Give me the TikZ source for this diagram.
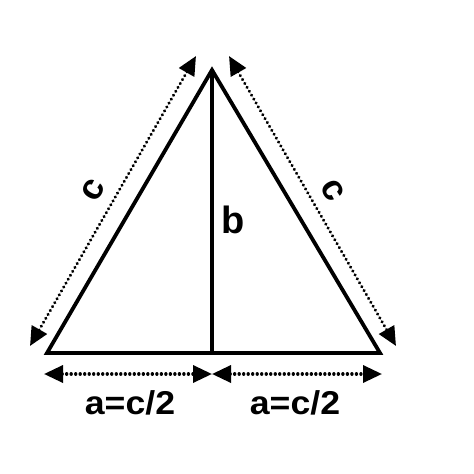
\documentclass[tikz,border=0pt]{standalone}
\usepackage{fontspec}
\setmainfont{Liberation Sans}
\usetikzlibrary{arrows.meta}
\begin{document}
\begin{tikzpicture}[x=1pt,y=-1pt,
  edge/.style={line width=3.8pt},
  dim/.style={line width=3.4pt,line cap=round,dash pattern=on 0.01pt off 4.5pt,
    {Triangle[length=19pt,width=17pt,line cap=butt]}-{Triangle[length=19pt,width=17pt,line cap=butt]}},
  lbl/.style={font=\bfseries\fontsize{33}{33}\selectfont,inner sep=0pt},
]
\useasboundingbox (0,0) rectangle (474,474);
\fill[white] (0,0) rectangle (474,474);
\coordinate (A) at (212,70);
\coordinate (L) at (47,353);
\coordinate (R) at (380,353);
\coordinate (F) at (212,353);
\draw[edge] (L) -- (A) -- (R) -- cycle;
\draw[edge] (A) -- (F);
\coordinate (l1) at (196,56);
\coordinate (l2) at (30,346);
\coordinate (r1) at (229,56);
\coordinate (r2) at (396,346);
\coordinate (b1) at (44,374);
\coordinate (b2) at (212,374);
\coordinate (b3) at (382,374);
\draw[dim] (l1) -- (l2);
\draw[dim] (r1) -- (r2);
\draw[dim] (b1) -- (b2);
\draw[dim] (b2) -- (b3);
\node[lbl,font=\bfseries\fontsize{36}{36}\selectfont,rotate=60] (cl) at (93,190) {c};
\node[lbl,font=\bfseries\fontsize{36}{36}\selectfont,rotate=-60] (cr) at (333,190) {c};
\node[lbl,font=\bfseries\fontsize{38}{38}\selectfont] (b) at (233,220) {b};
\node[lbl,xscale=1.08] (al) at (130,403) {a=c/2};
\node[lbl,xscale=1.08] (ar) at (295,403) {a=c/2};
\end{tikzpicture}
\end{document}
